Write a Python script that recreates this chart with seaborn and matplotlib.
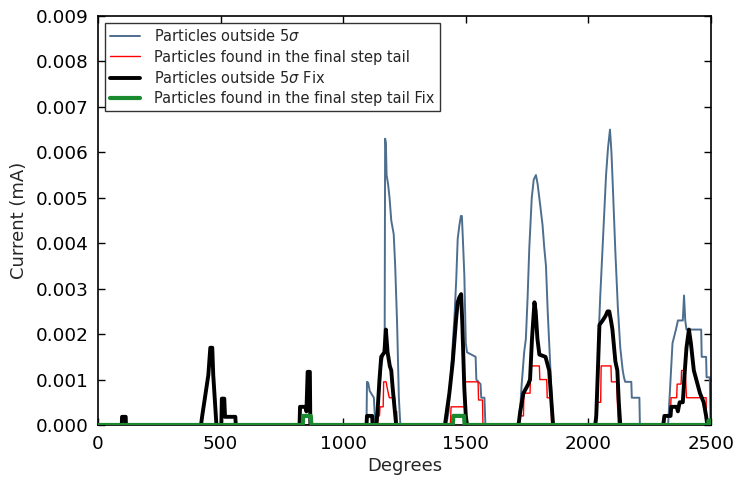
import matplotlib
matplotlib.use("Agg")
import matplotlib.pyplot as plt
import seaborn as sns
import pandas as pd
from matplotlib.ticker import FormatStrFormatter, MultipleLocator

# ---------------- data (degrees, mA) ----------------
blue_x = [0, 1095, 1097, 1102, 1108, 1125, 1130, 1138, 1145, 1155, 1165, 1169, 1171, 1174, 1177,
          1183, 1189, 1196, 1206, 1212, 1220, 1227, 1233,
          1420, 1430, 1440, 1447, 1454, 1461, 1467, 1474, 1480, 1484, 1488, 1494, 1500, 1505,
          1540, 1543, 1560, 1563, 1576, 1580,
          1715, 1720, 1728, 1738, 1745, 1752, 1759, 1769, 1777, 1786, 1793, 1802, 1813, 1820,
          1827, 1834, 1841, 1847, 1854, 1858,
          2030, 2035, 2040, 2048, 2056, 2064, 2072, 2080, 2088, 2094, 2100, 2110, 2120, 2130,
          2140, 2145, 2150, 2175, 2177, 2208, 2210,
          2325, 2330, 2343, 2357, 2365, 2385, 2390, 2395, 2400, 2460, 2462, 2480, 2482, 2495,
          2498, 2500]
blue_y = [0, 0, 0.00095, 0.00093, 0.00075, 0.0006, 0.0001, 0, 0.0006, 0.0013, 0.0016, 0.0017,
          0.0063, 0.0062, 0.0055, 0.0053, 0.005, 0.0045, 0.0042, 0.0035, 0.0022, 0.0006, 0,
          0, 0.0003, 0.0012, 0.0018, 0.0024, 0.0032, 0.0041, 0.0044, 0.0046, 0.0046, 0.0041,
          0.0033, 0.0018, 0.0016, 0.0015, 0.001, 0.0009, 0.0006, 0.0006, 0,
          0, 0.0002, 0.0009, 0.0016, 0.0019, 0.0028, 0.0039, 0.005, 0.0054, 0.0055, 0.0053,
          0.0049, 0.0044, 0.0039, 0.0035, 0.0025, 0.0017, 0.001, 0.0002, 0,
          0, 0.0002, 0.0017, 0.0028, 0.0037, 0.0046, 0.0055, 0.0061, 0.0065, 0.006, 0.0052,
          0.0038, 0.0026, 0.0017, 0.0012, 0.00105, 0.00095, 0.00095, 0.0006, 0.0006, 0,
          0, 0.0005, 0.0018, 0.0021, 0.0023, 0.0023, 0.00285, 0.0023, 0.0021, 0.0021, 0.0015,
          0.0015, 0.00105, 0.00105, 0, 0]

red_x = [0, 1140, 1142, 1148, 1150, 1163, 1165, 1175, 1180, 1188, 1210, 1212, 1218, 1220,
         1437, 1440, 1495, 1497, 1550, 1552, 1568, 1570,
         1716, 1718, 1735, 1737, 1762, 1765, 1800, 1802, 1830, 1832, 1848, 1850,
         2030, 2032, 2050, 2052, 2092, 2094, 2115, 2122,
         2310, 2312, 2335, 2337, 2360, 2362, 2378, 2380, 2395, 2400, 2480, 2482, 2500]
red_y = [0, 0, 0.0002, 0.0002, 0.0004, 0.0004, 0.00095, 0.00095, 0.0008, 0.0006, 0.0006,
         0.0003, 0.0003, 0,
         0, 0.0004, 0.0004, 0.00095, 0.00095, 0.00055, 0.00055, 0,
         0, 0.0002, 0.0002, 0.0007, 0.0007, 0.0013, 0.0013, 0.001, 0.001, 0.0006, 0.0006, 0,
         0, 0.0005, 0.0005, 0.0013, 0.0013, 0.00095, 0.00095, 0,
         0, 0.0002, 0.0002, 0.0006, 0.0006, 0.0009, 0.0009, 0.0012, 0.0012, 0.0006, 0.0006, 0, 0]

black_x = [0, 97, 98, 113, 114, 420, 425, 450, 458, 466, 470, 483, 503, 505, 515, 518, 560, 562,
           822, 824, 845, 850, 855, 864, 866,
           1095, 1097, 1118, 1120, 1135, 1140, 1148, 1155, 1168, 1174, 1181, 1190, 1196, 1202, 1216,
           1415, 1420, 1433, 1447, 1460, 1467, 1473, 1481, 1486, 1494, 1500, 1505,
           1715, 1722, 1735, 1755, 1762, 1770, 1780, 1785, 1792, 1800, 1825, 1840, 1848, 1856,
           2028, 2032, 2038, 2045, 2058, 2070, 2078, 2085, 2092, 2098, 2110, 2118, 2124, 2130,
           2305, 2310, 2335, 2338, 2360, 2365, 2372, 2385, 2392, 2400, 2410, 2418, 2430, 2440,
           2455, 2470, 2480, 2485, 2500]
black_y = [0, 0, 0.00018, 0.00018, 0, 0, 0.0002, 0.0011, 0.0017, 0.0017, 0.0011, 0, 0, 0.00058,
           0.00058, 0.00018, 0.00018, 0,
           0, 0.0004, 0.0004, 0.0003, 0.00117, 0.00117, 0,
           0, 0.0002, 0.0002, 0, 0, 0.0003, 0.001, 0.0015, 0.0016, 0.0021, 0.0016, 0.0013, 0.0012,
           0.0008, 0,
           0, 0.0002, 0.0007, 0.0014, 0.0023, 0.0027, 0.0028, 0.00288, 0.0022, 0.0008, 0.0002, 0,
           0, 0.0003, 0.0007, 0.0009, 0.001, 0.0019, 0.0027, 0.0025, 0.0019, 0.00155, 0.0015,
           0.0012, 0.0006, 0,
           0, 0.0002, 0.0011, 0.0022, 0.0023, 0.0024, 0.0025, 0.0025, 0.0023, 0.0021, 0.0014,
           0.0012, 0.0005, 0,
           0, 0.0002, 0.0002, 0.0004, 0.0004, 0.0003, 0.0005, 0.0005, 0.0011, 0.0017, 0.0021,
           0.0018, 0.0012, 0.001, 0.0007, 0.0005, 0.0002, 0, 0]

green_x = [0, 835, 837, 868, 870, 1447, 1449, 1493, 1495, 2488, 2490, 2498, 2500]
green_y = [0, 0, 0.0002, 0.0002, 0, 0, 0.0002, 0.0002, 0, 0, 0.0001, 0.0001, 0]

labels = ["Particles outside 5$\\sigma$",
          "Particles found in the final step tail",
          "Particles outside 5$\\sigma$ Fix",
          "Particles found in the final step tail Fix"]

# ---------------- plotting ----------------
sns.set_style("ticks")
plt.rcParams['font.family'] = ['DejaVu Sans']
plt.rcParams['mathtext.fontset'] = 'dejavusans'

fig = plt.figure(figsize=(7.36, 4.78), dpi=100)
ax = fig.add_axes([98 / 736, 53 / 478, 613 / 736, 409 / 478])

series = [
    (blue_x, blue_y, labels[0], '#4e6e8e', 1.4, 1),
    (red_x, red_y, labels[1], '#ff0000', 1.0, 2),
    (black_x, black_y, labels[2], '#000000', 2.8, 3),
    (green_x, green_y, labels[3], '#1a8a2e', 3.0, 4),
]
for xs, ys, lab, col, lw, z in series:
    df = pd.DataFrame({"Degrees": xs, "Current": ys})
    sns.lineplot(data=df, x="Degrees", y="Current", ax=ax, estimator=None, sort=False,
                 color=col, linewidth=lw, label=lab, zorder=z)

ax.set_xlim(0, 2500)
ax.set_ylim(0, 0.009)
ax.xaxis.set_major_locator(MultipleLocator(500))
ax.yaxis.set_major_locator(MultipleLocator(0.001))
ax.yaxis.set_major_formatter(FormatStrFormatter('%.3f'))
ax.set_xlabel("Degrees", fontsize=13, labelpad=3)
ax.set_ylabel("Current (mA)", fontsize=13, labelpad=5)
ax.tick_params(direction='in', top=True, right=True, length=5, width=1, labelsize=13.2,
               colors='black', pad=7)
for s in ax.spines.values():
    s.set_color('black')
    s.set_linewidth(1.2)

leg = ax.legend(loc='upper left', fontsize=10.5, frameon=True, fancybox=False,
                edgecolor='black', handlelength=2.0, labelspacing=0.35,
                borderaxespad=0.5, borderpad=0.35, handletextpad=1.0)
leg.get_frame().set_linewidth(1.0)

fig.savefig("out.png", dpi=100)
